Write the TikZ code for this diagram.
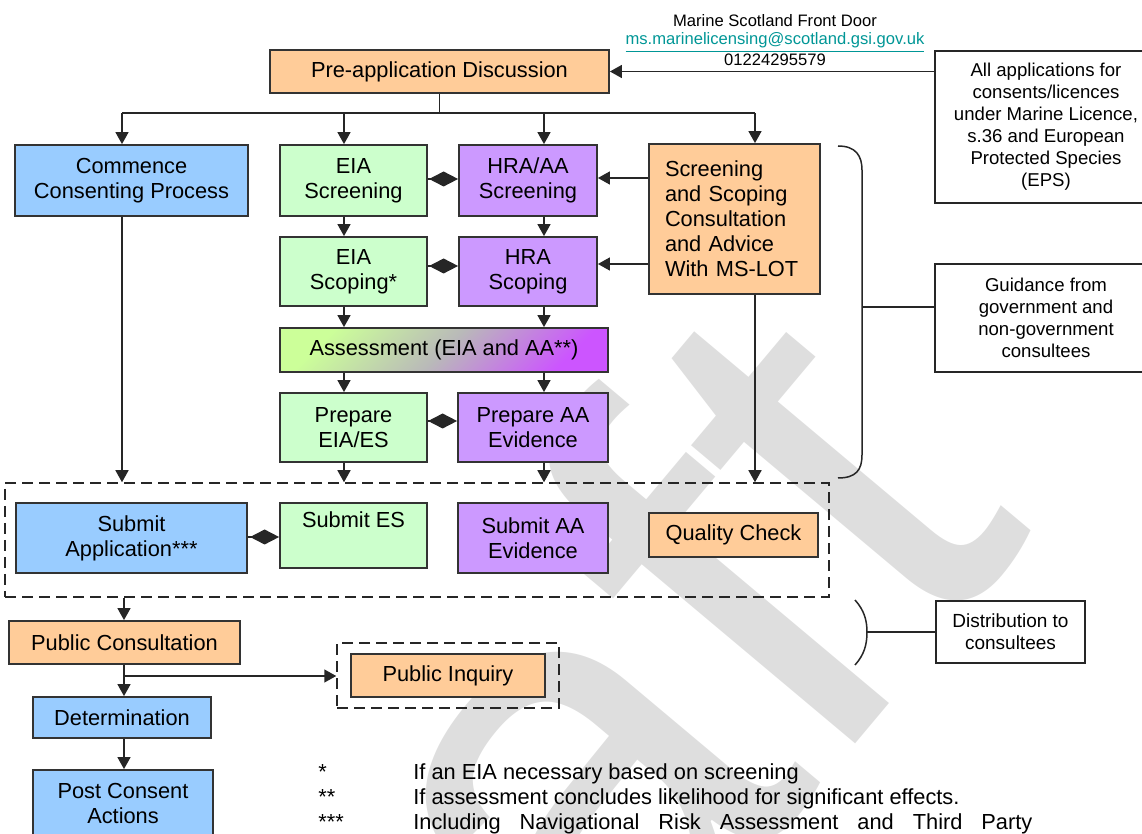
\documentclass[tikz,border=0pt]{standalone}
\usepackage{fontspec}
\setmainfont{Liberation Sans}
\usetikzlibrary{arrows.meta}
\definecolor{ora}{RGB}{255,204,153}
\definecolor{blu}{RGB}{153,204,255}
\definecolor{grn}{RGB}{204,255,204}
\definecolor{pur}{RGB}{204,153,255}
\definecolor{gG}{RGB}{204,255,153}
\definecolor{gP}{RGB}{204,85,255}
\definecolor{gM}{RGB}{185,185,185}
\definecolor{lnk}{RGB}{0,150,150}
\newcommand{\mfnt}{\fontsize{10.9}{12.6}\selectfont}
\newcommand{\rfnt}{\fontsize{9.3}{11}\selectfont}
\newcommand{\hfnt}{\fontsize{8.3}{9.3}\selectfont}
\newcommand{\ffnt}{\fontsize{10.9}{12.6}\selectfont}
\begin{document}
\begin{tikzpicture}[x=0.5pt,y=-0.5pt,
  box/.style={draw=black!80, line width=0.9pt, inner sep=0pt, align=center, font=\mfnt},
  rbox/.style={draw=black!85, line width=0.8pt, inner sep=0pt, align=center, font=\rfnt, fill=white},
  sz/.style 2 args={minimum width=#1*0.5pt, minimum height=#2*0.5pt},
  ln/.style={draw=black!85, line width=0.75pt},
  arr/.style={ln, -{Triangle[length=6pt,width=6.5pt]}},
  dia/.style={ln, -{Diamond[length=14.5pt,width=7.5pt]}},
  grpbox/.style={draw=black!85, line width=0.75pt, dash pattern=on 5.5pt off 3pt, inner sep=0pt},
  txt/.style={inner sep=0pt, anchor=base west, font=\ffnt},
  brc/.style={draw=black!85, line width=0.75pt}
]
\useasboundingbox (0,0) rectangle (1142,834);
\clip (0,0) rectangle (1142,834);
% watermark
\node[rotate=50, anchor=base west, inner sep=0pt, text=black!13,
  font=\fontsize{300}{300}\selectfont] (wm) at (200,1525) {Draft};

% header
\node[inner sep=0pt, align=center, font=\hfnt] (hdr) at (775,40)
  {Marine Scotland Front Door\\ \textcolor{lnk}{\underline{ms.marinelicensing@scotland.gsi.gov.uk}}\\ 01224295579};

% boxes
\node[box, fill=ora, sz={339}{43}] (pre) at (439.5,71.5) {Pre-application Discussion};
\node[box, fill=blu, sz={233}{71}] (com) at (131.5,180.5) {Commence\\Consenting Process};
\node[box, fill=grn, sz={147}{71}] (eias) at (353.5,180.5) {EIA\\Screening};
\node[box, fill=pur, sz={138}{71}] (hras) at (528,180.5) {HRA/AA\\Screening};
\node[box, fill=ora, sz={171}{150}, text width=69.5pt, inner xsep=8pt, align=left,
  font=\fontsize{10.9}{12.5}\selectfont] (ssc) at (734.5,219)
  {Screening\\and Scoping\\Consultation\\and Advice\\With MS-LOT};
\node[box, fill=grn, sz={147}{69}] (eiasc) at (353.5,271.5) {EIA\\Scoping*};
\node[box, fill=pur, sz={138}{69}] (hrasc) at (528,271.5) {HRA\\Scoping};
\node[box, sz={328}{44}, left color=gG, right color=gP, middle color=gM, shading angle=45] (ass) at (444,350) {Assessment (EIA and AA**)};
\node[box, fill=grn, sz={147}{69}] (pe) at (353.5,427.5) {Prepare\\EIA/ES};
\node[box, fill=pur, sz={150}{69}] (pa) at (533,427.5) {Prepare AA\\Evidence};

\node[grpbox, sz={824}{114}] (grp) at (417,540) {};
\node[box, fill=blu, sz={231}{70}] (sapp) at (131.5,538) {Submit\\Application***};
\node[box, fill=grn, sz={147}{65}] (ses) at (353.5,535.5) {Submit ES\\\strut};
\node[box, fill=pur, sz={150}{70}] (saa) at (533,538) {Submit AA\\Evidence};
\node[box, fill=ora, sz={169}{44}] (qc) at (733.5,535) {Quality Check};

\node[box, fill=ora, sz={231}{43}] (pc) at (124.5,642.5) {Public Consultation};
\node[grpbox, sz={222}{65}] (pig) at (448,675.5) {};
\node[box, fill=ora, sz={194}{43}] (pi) at (448,675.5) {Public Inquiry};
\node[box, fill=blu, sz={178}{41}] (det) at (122,717.5) {Determination};
\node[box, fill=blu, sz={180}{67}] (post) at (123,803.5) {Post Consent\\Actions};

% right boxes
\node[rbox, sz={222}{152}] (all) at (1046,127) {All applications for\\consents/licences\\under Marine Licence,\\s.36 and European\\Protected Species\\(EPS)};
\node[rbox, sz={222}{108}] (gui) at (1046,318) {Guidance from\\government and\\non-government\\consultees};
\node[rbox, sz={149}{62}, font=\fontsize{9.5}{11}\selectfont] (dis) at (1010.5,632) {Distribution to\\consultees};

% coordinates
\coordinate (b1) at (122,113);
\coordinate (b2) at (344,113);
\coordinate (b3) at (544,113);
\coordinate (b4) at (755,113);
\coordinate (cx) at (122,0);
\coordinate (gx) at (344,0);
\coordinate (px) at (544,0);
\coordinate (sx) at (755,0);
\coordinate (dx) at (124,0);
\coordinate (y1) at (0,178);
\coordinate (y2) at (0,264);
\coordinate (d1) at (0,179);
\coordinate (d2) at (0,266);
\coordinate (d3) at (0,421);
\coordinate (d4) at (0,537);
\coordinate (br) at (124,676);

% connectors
\draw[arr] (all.west |- pre.east) -- (pre.east);
\draw[ln] (pre.south) -- (pre.south |- b1);
\draw[ln] (b1) -- (b4);
\draw[arr] (b1) -- (b1 |- com.north);
\draw[arr] (b2) -- (b2 |- eias.north);
\draw[arr] (b3) -- (b3 |- hras.north);
\draw[arr] (b4) -- (b4 |- ssc.north);

\draw[dia] (eias.east |- d1) -- (hras.west |- d1);
\draw[dia] (eiasc.east |- d2) -- (hrasc.west |- d2);
\draw[dia] (pe.east |- d3) -- (pa.west |- d3);
\draw[dia] (sapp.east |- d4) -- (ses.west |- d4);

\draw[arr] (ssc.west |- y1) -- (hras.east |- y1);
\draw[arr] (ssc.west |- y2) -- (hrasc.east |- y2);

\draw[arr] (eias.south -| gx) -- (eiasc.north -| gx);
\draw[arr] (hras.south -| px) -- (hrasc.north -| px);
\draw[arr] (eiasc.south -| gx) -- (ass.north -| gx);
\draw[arr] (hrasc.south -| px) -- (ass.north -| px);
\draw[arr] (ass.south -| gx) -- (pe.north -| gx);
\draw[arr] (ass.south -| px) -- (pa.north -| px);
\draw[arr] (pe.south -| gx) -- (grp.north -| gx);
\draw[arr] (pa.south -| px) -- (grp.north -| px);
\draw[arr] (com.south -| cx) -- (grp.north -| cx);
\draw[arr] (ssc.south -| sx) -- (grp.north -| sx);

\draw[arr] (grp.south -| dx) -- (pc.north -| dx);
\draw[arr] (pc.south -| dx) -- (det.north -| dx);
\draw[arr] (br) -- (pig.west |- br);
\draw[arr] (det.south -| dx) -- (post.north -| dx);

% braces
\draw[brc] (838,146) .. controls (856,146) and (862,156) .. (862,170) -- (862,455) .. controls (862,470) and (856,478) .. (838,478);
\coordinate (bm) at (862,307);
\draw[ln] (bm) -- (gui.west |- bm);
\draw[brc] (855,600) .. controls (864,610) and (867,620) .. (867,632) .. controls (867,645) and (864,655) .. (855,665);
\coordinate (sm) at (867,632);
\draw[ln] (sm) -- (dis.west |- sm);

% footnotes
\node[txt] (s1) at (318,779) {*};
\node[txt] (f1) at (413,779) {If an EIA necessary based on screening};
\node[txt] (s2) at (318,804) {**};
\node[txt] (f2) at (413,804) {If assessment concludes likelihood for significant effects.};
\node[txt] (s3) at (318,829) {***};
\node[txt] (f3) at (413,829) {\makebox[309.5pt][s]{Including Navigational Risk Assessment and Third Party}};
\end{tikzpicture}
\end{document}
